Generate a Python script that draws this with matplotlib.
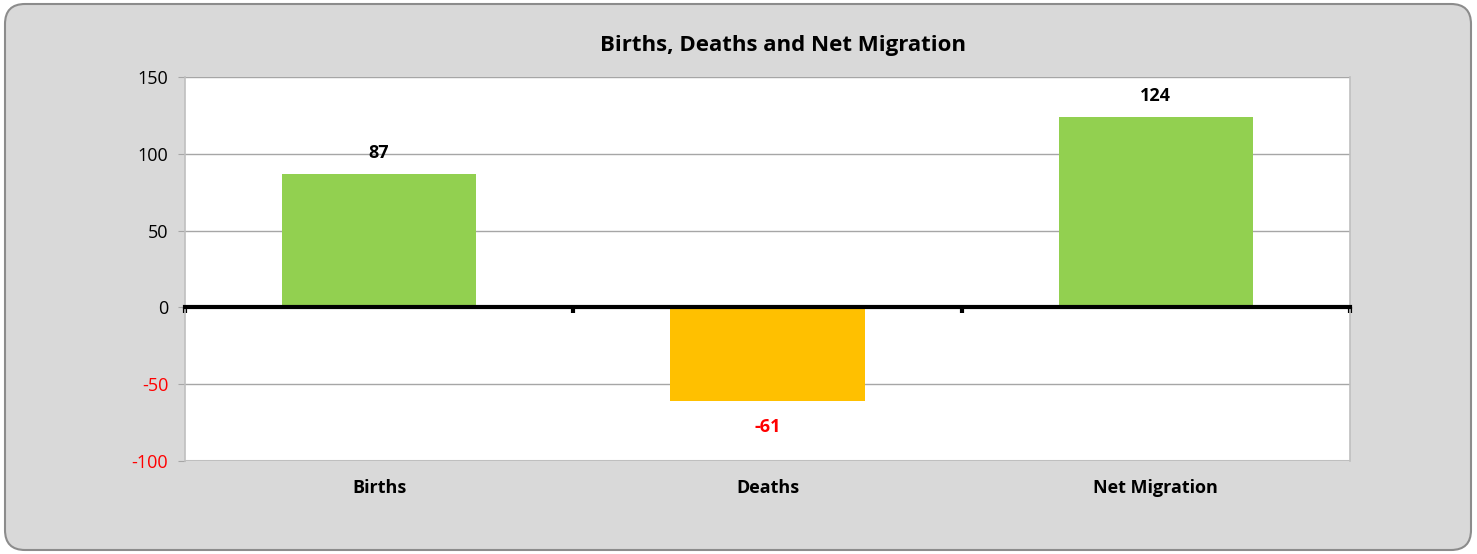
import matplotlib
matplotlib.use("Agg")
import matplotlib.pyplot as plt
from matplotlib.patches import FancyBboxPatch
import matplotlib.transforms as mtransforms

categories = ["Births", "Deaths", "Net Migration"]
values = [87, -61, 124]
y_ticks = [-100, -50, 0, 50, 100, 150]

GREEN = "#92d050"
ORANGE = "#ffc000"
RED = "#ff0000"

plt.rcParams["font.family"] = ["Open Sans", "DejaVu Sans"]

fig = plt.figure(figsize=(14.77, 5.54), dpi=100)
fig.patch.set_facecolor("white")

# rounded chart-area box (inches)
box = FancyBboxPatch((0.05, 0.04), 14.66, 5.46,
                     boxstyle="round,pad=0,rounding_size=0.2",
                     transform=fig.dpi_scale_trans, facecolor="#d9d9d9",
                     edgecolor="#8c8c8c", linewidth=1.5, zorder=-5)
fig.patches.append(box)

ax = fig.add_axes([185 / 1477, 1 - 461 / 554, 1165 / 1477, 384 / 554])
ax.set_facecolor("white")

x = range(len(categories))
colors = [GREEN if v >= 0 else ORANGE for v in values]
bars = ax.bar(x, values, width=0.5, color=colors, zorder=2)

ax.set_xlim(-0.5, len(categories) - 0.5)
ax.set_ylim(-100, 150)
ax.set_yticks(y_ticks)
ax.set_yticklabels([str(t) for t in y_ticks], fontsize=13)
for lbl, t in zip(ax.get_yticklabels(), y_ticks):
    lbl.set_color(RED if t < 0 else "black")
ax.tick_params(axis="y", length=5, color="#a6a6a6", pad=7)
ax.yaxis.grid(True, color="#a6a6a6", linewidth=1, zorder=0)
ax.set_axisbelow(True)

for side in ["left", "right", "top"]:
    ax.spines[side].set_color("#bfbfbf")
    ax.spines[side].set_linewidth(1.2)
ax.spines["top"].set_visible(False)

# category axis crosses at zero
ax.spines["bottom"].set_position(("data", 0))
ax.spines["bottom"].set_linewidth(3)
ax.spines["bottom"].set_color("black")
ax.spines["bottom"].set_zorder(3)
ax.set_xticks([i - 0.5 for i in range(len(categories) + 1)])
ax.set_xticklabels([])
ax.tick_params(axis="x", length=4, width=3, color="black", direction="out")

# lower plot-area border
ax.axhline(-100, color="#bfbfbf", linewidth=1.5, zorder=1)

trans = mtransforms.blended_transform_factory(ax.transData, fig.transFigure)
for i, name in enumerate(categories):
    ax.text(i, 1 - 488 / 554, name, transform=trans, ha="center", va="center",
            fontsize=13, fontweight="bold")

for b, v in zip(bars, values):
    off = 15 if v >= 0 else -19
    ax.annotate(str(v), (b.get_x() + b.get_width() / 2, v),
                xytext=(0, off), textcoords="offset points",
                ha="center", va="center", fontsize=13, fontweight="bold",
                color="black" if v >= 0 else RED)

fig.text(783 / 1477, 1 - 45 / 554, "Births, Deaths and Net Migration",
         ha="center", va="center", fontsize=16, fontweight="bold")

fig.savefig("out.png", dpi=100)
